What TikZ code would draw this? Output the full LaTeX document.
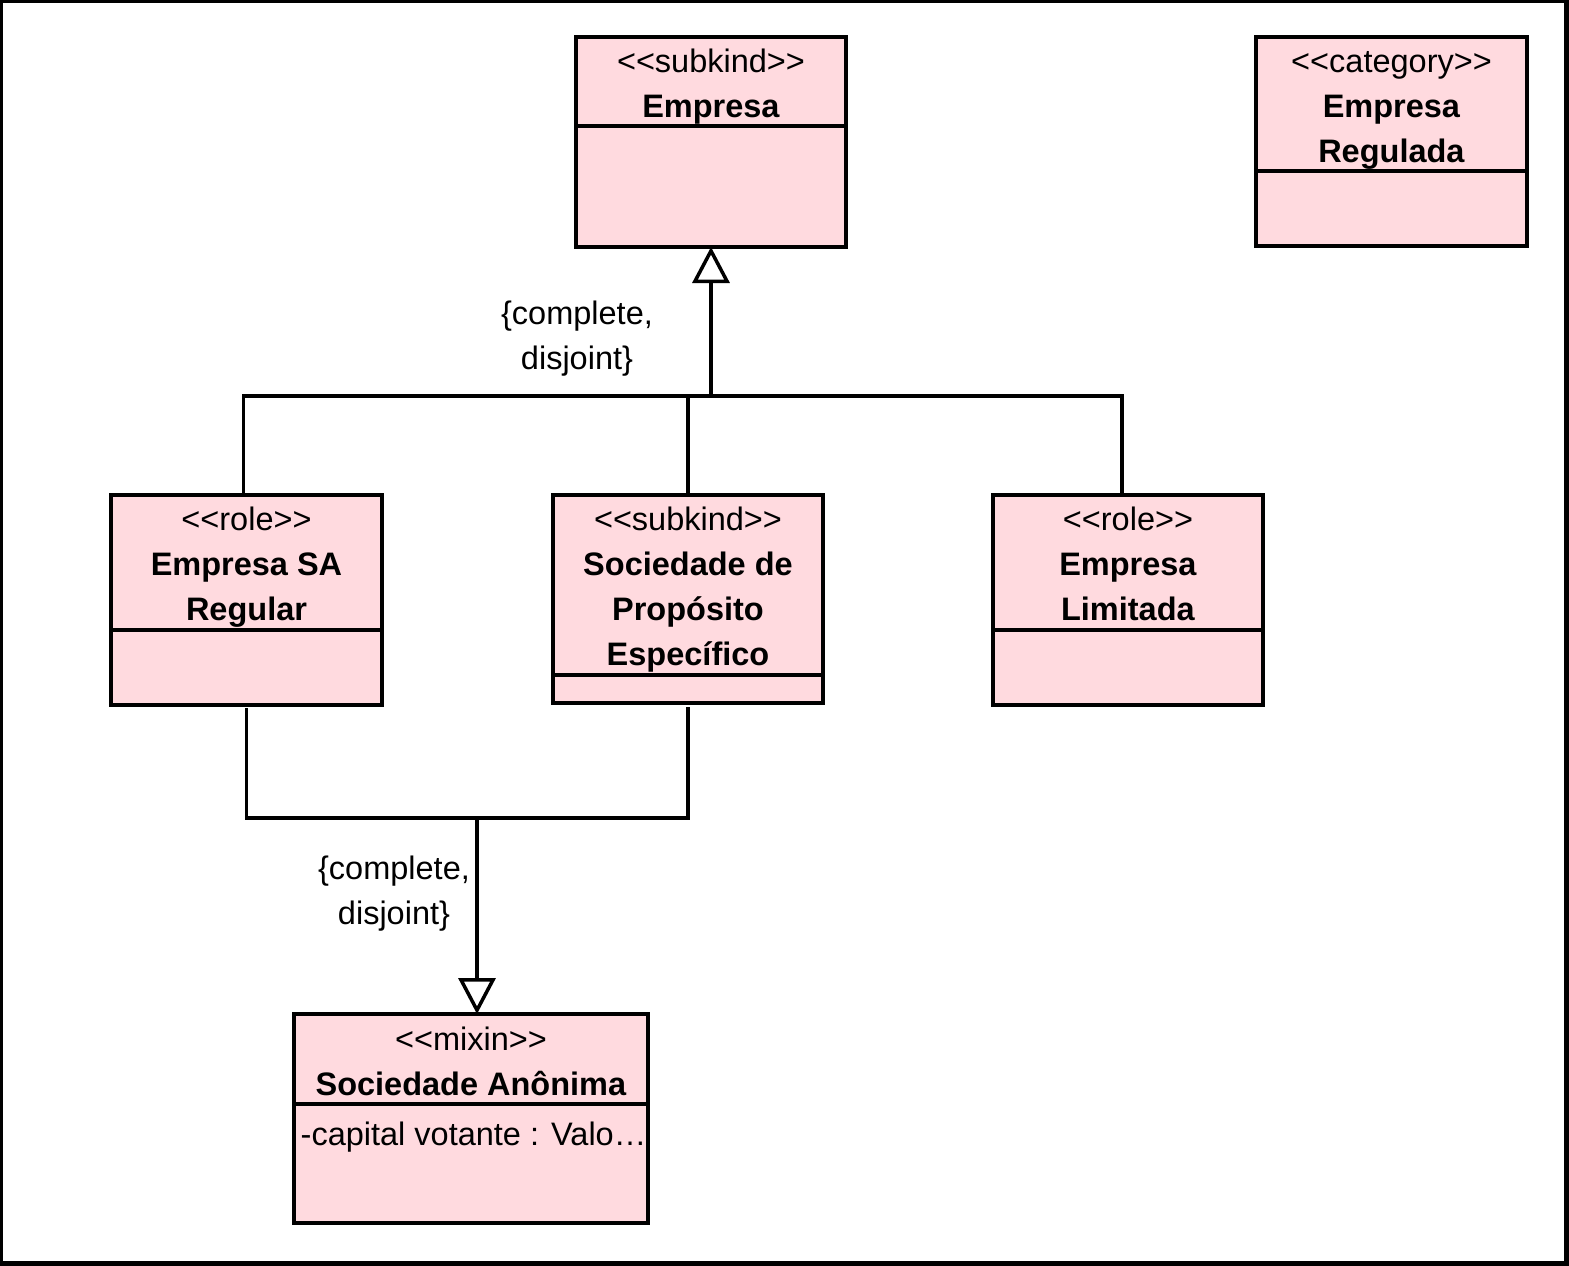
\documentclass[tikz,border=0pt]{standalone}
\usepackage{fontspec}
\setmainfont{Liberation Sans}[Ligatures=TeXOff]
\usetikzlibrary{positioning,arrows.meta,calc}

\definecolor{classpink}{RGB}{255,218,223}
\newcommand{\umlfont}{\fontsize{32.5}{45}\selectfont}
\newcommand{\firstline}{\rule{0pt}{25pt}}

\begin{document}
\begin{tikzpicture}[
        x=1pt, y=-1pt,
        classbox/.style={draw, line width=3.5pt, fill=classpink, inner sep=0pt,
            outer sep=0pt, anchor=north west},
        classtext/.style={font=\umlfont, align=center, inner sep=0pt},
        attrtext/.style={font=\umlfont, inner sep=0pt, anchor=base west},
        constraint/.style={font=\umlfont, align=center, inner sep=0pt, anchor=north},
        divider/.style={line width=3.5pt},
        genline/.style={line width=3.5pt},
        genarrow/.style={genline, -{Triangle[open, length=36pt, width=37pt]}},
    ]
        \useasboundingbox (0,0) rectangle (1569,1266);
        % frame
        \fill[black] (0,0) rectangle (1569,1266);
        \fill[white] (3,3) rectangle (1564,1261);

        % Top row
        \node[classbox, minimum width=270pt, minimum height=210pt] (empresa) at (576,37) {};
        \node[classtext, below=10pt of empresa.north] (empresa-txt) {\firstline<<subkind>>\\\textbf{Empresa}};
        \draw[divider] (empresa.west |- 0,126) -- (empresa.east |- 0,126);

        \node[classbox, minimum width=271pt, minimum height=209pt] (regulada) at (1256,37) {};
        \node[classtext, below=10pt of regulada.north] (regulada-txt) {\firstline<<category>>\\\textbf{Empresa}\\\textbf{Regulada}};
        \draw[divider] (regulada.west |- 0,171) -- (regulada.east |- 0,171);

        % Middle row
        \node[classbox, minimum width=271pt, minimum height=210pt] (sareg) at (111,495) {};
        \node[classtext, below=10pt of sareg.north] (sareg-txt) {\firstline<<role>>\\\textbf{Empresa SA}\\\textbf{Regular}};
        \draw[divider] (sareg.west |- 0,630) -- (sareg.east |- 0,630);

        \node[classbox, minimum width=270pt, minimum height=208pt] (spe) at (553,495) {};
        \node[classtext, below=10pt of spe.north] (spe-txt) {\firstline<<subkind>>\\\textbf{Sociedade de}\\\textbf{Propósito}\\\textbf{Específico}};
        \draw[divider] (spe.west |- 0,675) -- (spe.east |- 0,675);

        \node[classbox, minimum width=270pt, minimum height=210pt] (limitada) at (993,495) {};
        \node[classtext, below=10pt of limitada.north] (limitada-txt) {\firstline<<role>>\\\textbf{Empresa}\\\textbf{Limitada}};
        \draw[divider] (limitada.west |- 0,630) -- (limitada.east |- 0,630);

        % Bottom: mixin
        \node[classbox, minimum width=354pt, minimum height=209pt] (anonima) at (294,1014) {};
        \node[classtext, below=11pt of anonima.north] (anonima-txt) {\firstline<<mixin>>\\\textbf{Sociedade Anônima}};
        \draw[divider] (anonima.west |- 0,1104) -- (anonima.east |- 0,1104);
        \node[attrtext] (capital) at ($(anonima.north west)+(6.5,131)$) {-capital votante : Valo\ldots};

        % Generalization set 1
        \coordinate (gen1) at (711,396);
        \draw[genline] ([xshift=-3pt]sareg.north) |- (gen1);
        \draw[genline] ([xshift=-6pt]limitada.north) |- (gen1);
        \draw[genline] (spe.north) -- (spe.north |- gen1);
        \draw[genarrow] (gen1) -- (empresa.south);
        \node[constraint] (gs1) at (577,299) {\firstline\{complete,\\disjoint\}};

        % Generalization set 2
        \coordinate (gen2) at (477,818);
        \draw[genline, shorten <=3pt] (sareg.south) |- (gen2);
        \draw[genline, shorten <=4pt] (spe.south) |- (gen2);
        \draw[genarrow] (gen2) -- (gen2 |- anonima.north);
        \node[constraint] (gs2) at (394,854) {\firstline\{complete,\\disjoint\}};
    \end{tikzpicture}
\end{document}
